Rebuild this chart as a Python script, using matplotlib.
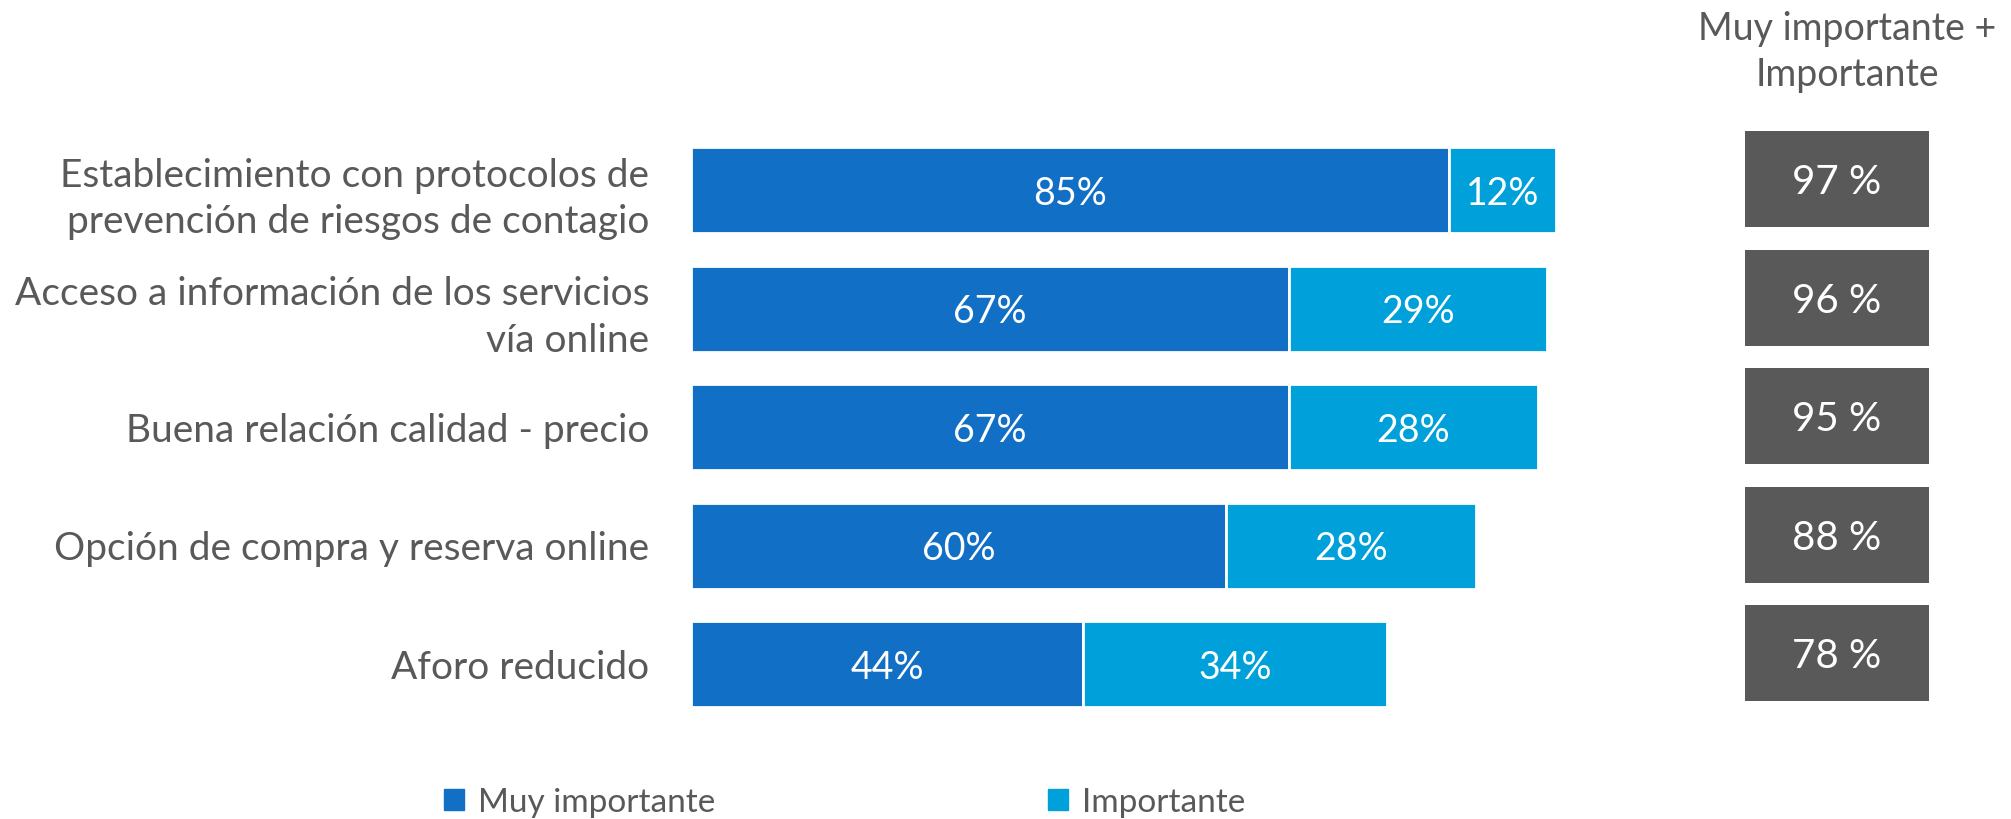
import matplotlib
matplotlib.use('Agg')
import matplotlib.pyplot as plt
from matplotlib.patches import Patch

categories = ['Establecimiento con protocolos de\nprevención de riesgos de contagio',
              'Acceso a información de los servicios\nvía online',
              'Buena relación calidad - precio',
              'Opción de compra y reserva online',
              'Aforo reducido']
muy_importante = [85, 67, 67, 60, 44]
importante = [12, 29, 28, 28, 34]
total = [97, 96, 95, 88, 78]

DARK = '#1170c6'
LIGHT = '#00a0da'
GREY = '#595959'
plt.rcParams['font.family'] = ['Lato', 'DejaVu Sans']

fig = plt.figure(figsize=(20.11, 8.19), dpi=100)
ax = fig.add_axes([691 / 2011, 0.1165, 892 / 2011, 0.7233])
y = list(range(len(categories)))
ax.barh(y, muy_importante, height=0.725, color=DARK, edgecolor='white', linewidth=2)
ax.barh(y, importante, left=muy_importante, height=0.725, color=LIGHT, edgecolor='white', linewidth=2)
for i in y:
    ax.text(muy_importante[i] / 2, i + 0.03, f'{muy_importante[i]}%', ha='center', va='center',
            color='white', fontsize=27)
    ax.text(muy_importante[i] + importante[i] / 2, i + 0.03, f'{importante[i]}%', ha='center',
            va='center', color='white', fontsize=27)
ax.set_xlim(0, 100)
ax.set_ylim(4.5, -0.5)
ax.set_yticks(y)
ax.set_yticklabels(categories, fontsize=28, color=GREY, linespacing=1.35)
ax.tick_params(axis='y', length=0, pad=30)
ax.set_xticks([])
for s in ax.spines.values():
    s.set_visible(False)

ax2 = fig.add_axes([1745 / 2011, 0.1165, 184 / 2011, 0.7233])
ax2.bar([0.5] * 5, [0.81] * 5, bottom=[i - 0.5 for i in y], width=1, color=GREY)
for i in y:
    ax2.text(0.5, i - 0.065, f'{total[i]} %', ha='center', va='center', color='white', fontsize=29)
ax2.set_xlim(0, 1)
ax2.set_ylim(4.5, -0.5)
ax2.axis('off')

fig.text(1847 / 2011, 1 - 52 / 819, 'Muy importante +\nImportante', ha='center', va='center',
         fontsize=27, color=GREY, linespacing=1.35)

handles = [Patch(color=DARK, label='Muy importante'), Patch(color=LIGHT, label='Importante')]
fig.legend(handles=handles, loc='center', bbox_to_anchor=(0.42, 0.02), ncol=2, frameon=False,
           fontsize=24, labelcolor=GREY, handlelength=0.6, handleheight=0.6, handletextpad=0.4,
           columnspacing=10)

fig.savefig('out.png', dpi=100)
